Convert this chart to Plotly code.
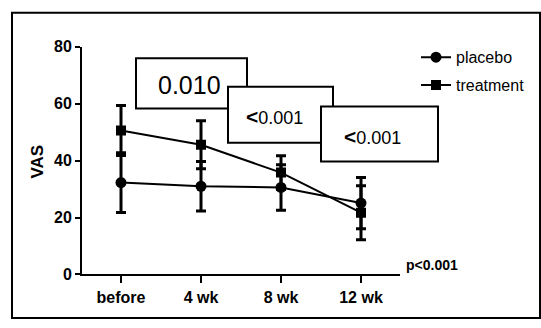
import plotly.graph_objects as go

categories = ["before", "4 wk", "8 wk", "12 wk"]
placebo = [32.3, 31.0, 30.6, 25.1]
placebo_err = [10.5, 8.7, 8.0, 9.0]
treatment = [50.6, 45.6, 35.8, 21.7]
treatment_err = [8.8, 8.4, 5.9, 9.5]
p_labels = ["0.010",
            "<span style='font-size:21px;font-weight:bold'>&lt;</span>0.001",
            "<span style='font-size:21px;font-weight:bold'>&lt;</span>0.001"]
y_ticks = [0, 20, 40, 60, 80]

W, H = 541, 328
FONT = "Liberation Sans, Arial, sans-serif"


def px(x):
    return x / W


def py(y):
    return 1 - y / H


fig = go.Figure()
fig.add_trace(go.Scatter(
    x=categories, y=placebo, name="placebo", mode="lines+markers",
    line=dict(color="black", width=2),
    marker=dict(symbol="circle", size=11, color="black"),
    error_y=dict(type="data", array=placebo_err, color="black", thickness=3, width=5),
    legendgroup="a",
))
fig.add_trace(go.Scatter(
    x=categories, y=treatment, name="treatment", mode="lines+markers",
    line=dict(color="black", width=2),
    marker=dict(symbol="square", size=10, color="black"),
    error_y=dict(type="data", array=treatment_err, color="black", thickness=3, width=5),
    legendgroup="b",
))

# outer frame
shapes = [dict(type="rect", xref="paper", yref="paper", x0=px(12), x1=px(540), y0=py(327), y1=py(5),
               line=dict(color="black", width=2), fillcolor="rgba(0,0,0,0)", layer="below")]
# p-value boxes
boxes = [(136, 247, 53, 106), (228, 333, 83, 142), (321, 438, 104, 162)]
for (x0, x1, y0, y1) in boxes:
    shapes.append(dict(type="rect", xref="paper", yref="paper", x0=px(x0), x1=px(x1), y0=py(y1), y1=py(y0),
                       line=dict(color="black", width=2), fillcolor="white", layer="above"))

annotations = []
text_pos = [(189, 81, 25), (274, 114, 18), (372, 136, 18)]
for (tx, ty, fs), t in zip(text_pos, p_labels):
    annotations.append(dict(x=px(tx), y=py(ty), xref="paper", yref="paper", text=t, showarrow=False,
                            xanchor="center", yanchor="middle", font=dict(family=FONT, size=fs, color="black")))
annotations.append(dict(x=px(38), y=py(162), xref="paper", yref="paper", text="VAS", textangle=-90,
                        showarrow=False, xanchor="center", yanchor="middle",
                        font=dict(family=FONT, size=17, color="black", weight="bold")))
annotations.append(dict(x=px(404), y=py(271), xref="paper", yref="paper", text="p&lt;0.001",
                        showarrow=False, xanchor="left", yanchor="middle",
                        font=dict(family=FONT, size=14, color="black", weight="bold")))

fig.update_layout(
    width=W, height=H, autosize=False,
    margin=dict(l=0, r=0, t=0, b=0),
    paper_bgcolor="white", plot_bgcolor="white",
    font=dict(family=FONT, color="black"),
    shapes=shapes, annotations=annotations,
    showlegend=True,
    legend=dict(x=px(416), y=py(34), xanchor="left", yanchor="top",
                font=dict(family=FONT, size=16, color="black"),
                bgcolor="rgba(0,0,0,0)", tracegroupgap=4, traceorder="grouped"),
    xaxis=dict(domain=[px(82), px(400)], range=[-0.4875, 3.4875], type="category",
               showline=True, linecolor="black", linewidth=2, ticks="outside", ticklen=7, tickwidth=2,
               tickcolor="black", showgrid=False, zeroline=False,
               tickfont=dict(family=FONT, size=16, color="black", weight="bold")),
    yaxis=dict(domain=[py(281), py(41)], range=[0, 80], tickvals=y_ticks,
               showline=True, linecolor="black", linewidth=2, ticks="outside", ticklen=5, tickwidth=2,
               tickcolor="black", showgrid=False, zeroline=False,
               tickfont=dict(family=FONT, size=16, color="black", weight="bold")),
)

fig.write_html("out.html")
